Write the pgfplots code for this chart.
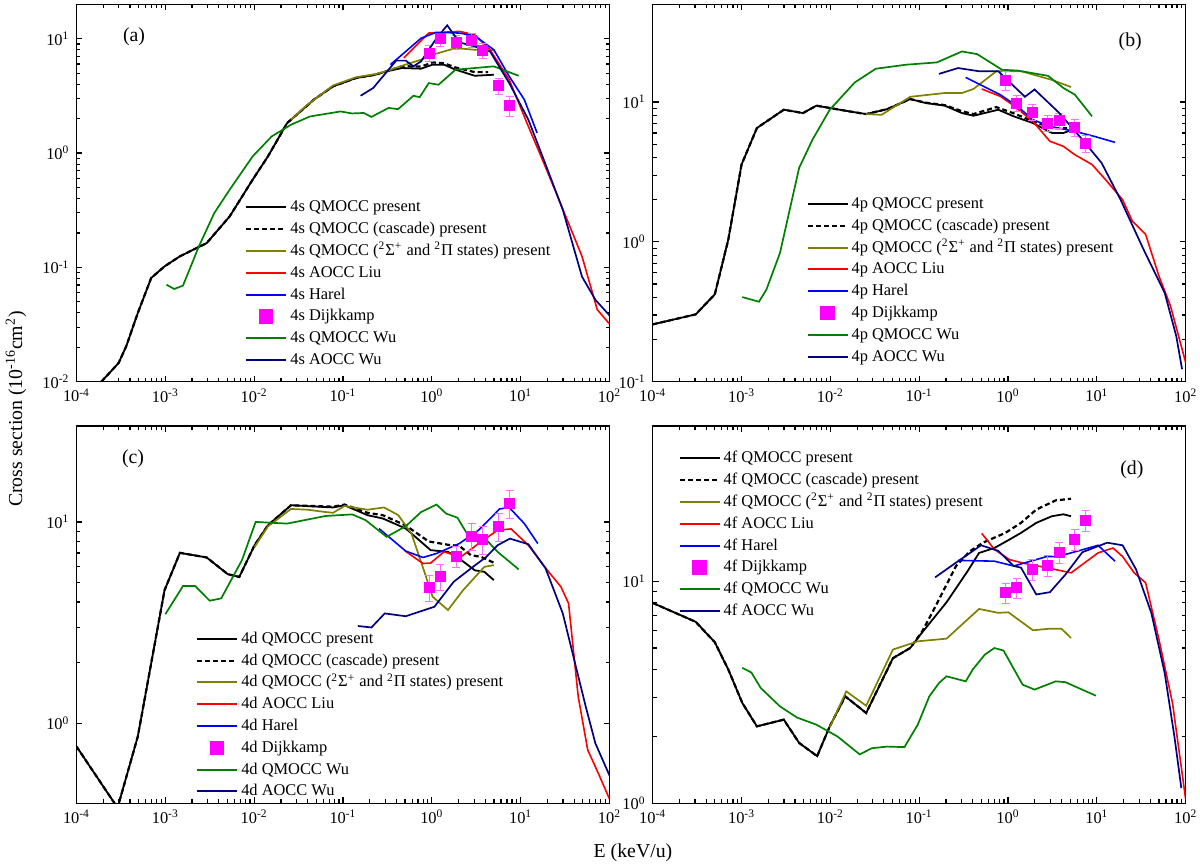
\documentclass[border=0pt]{standalone}
\usepackage{fontspec}
\setmainfont{Liberation Serif}
\usepackage{pgfplots}
\pgfplotsset{compat=1.18}
\definecolor{olivec}{RGB}{128,128,0}
\definecolor{greenc}{RGB}{0,128,0}
\definecolor{navyc}{RGB}{0,0,128}
\definecolor{redc}{RGB}{255,0,0}
\definecolor{bluec}{RGB}{0,0,255}
\definecolor{magc}{RGB}{255,0,255}
\definecolor{pinkc}{RGB}{255,110,255}
\newcommand{\fs}{\fontsize{8.2}{10}\selectfont}
\newcommand{\fl}{\fontsize{9.9}{12}\selectfont}
\tikzset{
  qm/.style={draw=black, line width=0.9pt},
  qmc/.style={draw=black, line width=1.1pt, dash pattern=on 2.5pt off 1.5pt},
  qms/.style={draw=olivec, line width=0.85pt},
  liu/.style={draw=redc, line width=0.8pt},
  harel/.style={draw=bluec, line width=0.8pt},
  wuq/.style={draw=greenc, line width=0.85pt},
  wua/.style={draw=navyc, line width=0.85pt},
}
\begin{document}
\begin{tikzpicture}
\useasboundingbox (0,0) rectangle (600pt,432.5pt);
% ---------------- (a)
\begin{loglogaxis}[at={(38.25pt,241.65pt)}, anchor=south west,
  scale only axis, width=266.5pt, height=188.7pt,
  xmin=1e-4, xmax=1e2, ymin=0.01, ymax=20,
  axis line style={line width=0.75pt},
  tick style={black, line width=0.6pt},
  major tick length=3pt, minor tick length=2pt,
  tick label style={font=\fs},
  xtick={1e-4,1e-3,1e-2,1e-1,1,10,100},
  xticklabels={10\textsuperscript{-4},10\textsuperscript{-3},10\textsuperscript{-2},10\textsuperscript{-1},10\textsuperscript{0},10\textsuperscript{1},10\textsuperscript{2}},
  ytick={0.01,0.1,1,10},
  yticklabels={10\textsuperscript{-2},10\textsuperscript{-1},10\textsuperscript{0},10\textsuperscript{1}},
  legend image code/.code={\draw[#1, line width=1pt] (0pt,0pt) -- (20pt,0pt);},
  legend cell align=left,
  legend style={draw=none, fill=none, font=\fs, inner sep=0pt, column sep=0pt,
     nodes={inner xsep=1.5pt, inner ysep=1.2pt, text height=6.5pt, text depth=2pt},
     at={(0.316,0.492)}, anchor=north west}]
\addplot[qm] coordinates {(1.9e-4,0.0100)(2.44e-4,0.0123)(2.98e-4,0.0146)(3.63e-4,0.0204)(4.9e-4,0.0399)(6.93e-4,0.0807)(9.8e-4,0.102)(1.46e-3,0.125)(2.92e-3,0.163)(5.3e-3,0.279)(9.62e-3,0.585)(0.0143,0.935)(0.0235,1.83)(0.0386,2.56)(0.047,2.93)(0.0773,3.83)(0.14,4.53)(0.23,4.84)(0.31,5.18)(0.461,5.54)(0.757,5.47)(1.02,5.93)(1.37,5.93)(1.85,5.36)(3.04,4.74)(4.99,4.84)};
\addlegendentry{4s QMOCC present}
\addplot[qmc] coordinates {(1.9e-4,0.0100)(2.44e-4,0.0123)(2.98e-4,0.0146)(3.63e-4,0.0204)(4.9e-4,0.0399)(6.93e-4,0.0807)(9.8e-4,0.102)(1.46e-3,0.125)(2.92e-3,0.163)(5.3e-3,0.279)(9.62e-3,0.585)(0.0143,0.935)(0.0235,1.83)(0.0386,2.56)(0.047,2.93)(0.0773,3.83)(0.14,4.53)(0.23,4.84)(0.31,5.2)(0.461,5.75)(0.757,5.7)(1.02,6.2)(1.37,6.1)(1.85,5.6)(3.04,5.1)(4.3,5.1)};
\addlegendentry{4s QMOCC (cascade) present}
\addplot[qms] coordinates {(0.026,1.96)(0.0386,2.6)(0.0773,3.9)(0.14,4.6)(0.23,4.9)(0.31,5.2)(0.461,5.8)(0.757,6.55)(1.02,7.24)(1.85,8.28)(3.04,8.0)(4.99,7.9)};
\addlegendentry{4s QMOCC (\textsuperscript{2}Σ\textsuperscript{+} and \textsuperscript{2}Π states) present}
\addplot[liu] coordinates {(0.484,6.8)(0.924,11.2)(2.04,11.6)(3.04,10.8)(4.52,8.0)(7.43,4.38)(12.2,1.71)(18.2,0.82)(27,0.39)(49,0.125)(72.8,0.0427)(100,0.032)};
\addlegendentry{4s AOCC Liu}
\addplot[harel] coordinates {(0.342,5.93)(0.509,7.74)(0.757,10.1)(1.13,11.4)(2.04,11.2)(3.04,10.6)(4.99,8.0)(7.43,4.69)(11.0,2.93)(15.3,1.50)};
\addlegendentry{4s Harel}
\addplot[only marks, mark=square*, mark size=2.5pt, color=magc,
     legend image code/.code={\fill[magc] (6.6pt,-3.3pt) rectangle (13.2pt,3.3pt);},
     error bars/y dir=both, error bars/y explicit,
     error bars/error bar style={pinkc, line width=0.5pt},
     error bars/error mark options={pinkc, rotate=90, mark size=2pt, line width=0.5pt}]
  table[x index=0, y index=1, y error index=2, row sep=\\] {
0.94 7.5 1.2\\ 1.25 10.0 1.5\\ 1.88 9.35 1.3\\ 2.81 9.7 1.4\\ 3.75 7.9 1.2\\ 5.63 3.88 0.6\\ 7.5 2.6 0.5\\};
\addlegendentry{4s Dijkkamp}
\addplot[wuq] coordinates {(1.03e-3,0.0705)(1.26e-3,0.0647)(1.58e-3,0.0692)(2.39e-3,0.153)(3.56e-3,0.299)(5.3e-3,0.478)(9.62e-3,0.935)(0.0158,1.40)(0.026,1.77)(0.0426,2.09)(0.094,2.31)(0.126,2.22)(0.171,2.24)(0.209,2.07)(0.326,2.48)(0.417,2.42)(0.621,3.17)(0.73,3.08)(0.924,4.09)(1.19,3.96)(1.85,5.36)(3.04,5.54)(4.99,5.73)(9.5,4.74)};
\addlegendentry{4s QMOCC Wu}
\addplot[wua] coordinates {(0.158,3.17)(0.219,3.71)(0.397,6.43)(0.509,6.43)(0.621,5.73)(0.757,6.34)(0.924,8.0)(1.13,10.1)(1.49,13.1)(2.04,9.29)(3.04,8.57)(4.52,7.74)(7.43,4.09)(12.2,1.96)(18.2,0.875)(29.8,0.319)(49,0.083)(69.4,0.052)(100,0.038)};
\addlegendentry{4s AOCC Wu}
\node[font=\fl] at (rel axis cs:0.108,0.913) {(a)};
\end{loglogaxis}
% ---------------- (b)
\begin{loglogaxis}[at={(326.35pt,241.65pt)}, anchor=south west,
  scale only axis, width=266.5pt, height=188.7pt,
  xmin=1e-4, xmax=1e2, ymin=0.1, ymax=50,
  axis line style={line width=0.75pt},
  tick style={black, line width=0.6pt},
  major tick length=3pt, minor tick length=2pt,
  tick label style={font=\fs},
  xtick={1e-4,1e-3,1e-2,1e-1,1,10,100},
  xticklabels={10\textsuperscript{-4},10\textsuperscript{-3},10\textsuperscript{-2},10\textsuperscript{-1},10\textsuperscript{0},10\textsuperscript{1},10\textsuperscript{2}},
  ytick={0.1,1,10},
  yticklabels={10\textsuperscript{-1},10\textsuperscript{0},10\textsuperscript{1}},
  legend image code/.code={\draw[#1, line width=1pt] (0pt,0pt) -- (20pt,0pt);},
  legend cell align=left,
  legend style={draw=none, fill=none, font=\fs, inner sep=0pt, column sep=0pt,
     nodes={inner xsep=1.5pt, inner ysep=1.2pt, text height=6.5pt, text depth=2pt},
     at={(0.288,0.501)}, anchor=north west}]
\addplot[qm] coordinates {(1e-4,0.257)(3.05e-4,0.303)(5.0e-4,0.421)(7.1e-4,1.04)(1.0e-3,3.57)(1.49e-3,6.52)(2.99e-3,8.81)(4.92e-3,8.34)(6.97e-3,9.42)(0.0162,8.58)(0.0253,8.2)(0.0437,8.9)(0.0792,10.5)(0.118,9.84)(0.194,9.42)(0.303,8.34)(0.408,7.98)(0.776,8.81)(1.16,7.9)(1.90,7.08)(3.12,6.01)(4.2,6.01)(5.12,6.28)};
\addlegendentry{4p QMOCC present}
\addplot[qmc] coordinates {(1e-4,0.257)(3.05e-4,0.303)(5.0e-4,0.421)(7.1e-4,1.04)(1.0e-3,3.57)(1.49e-3,6.52)(2.99e-3,8.81)(4.92e-3,8.34)(6.97e-3,9.42)(0.0162,8.58)(0.0253,8.2)(0.0437,8.9)(0.0792,10.5)(0.118,9.9)(0.194,9.5)(0.303,8.6)(0.408,8.2)(0.738,9.2)(1.16,8.3)(1.90,7.3)(3.12,6.5)(4.63,6.5)};
\addlegendentry{4p QMOCC (cascade) present}
\addplot[qms] coordinates {(0.0253,8.2)(0.0377,8.1)(0.0792,10.9)(0.194,11.6)(0.303,11.6)(0.408,12.4)(0.738,16.6)(1.41,16.6)(3.12,14.4)(5.12,12.8)};
\addlegendentry{4p QMOCC (\textsuperscript{2}Σ\textsuperscript{+} and \textsuperscript{2}Π states) present}
\addplot[liu] coordinates {(0.506,12.4)(0.814,11.0)(1.16,9.42)(1.90,7.28)(2.96,5.24)(4.2,4.82)(5.65,4.2)(8.83,3.57)(12.5,2.79)(19.5,2.0)(25,1.41)(35.4,1.13)(50,0.569)(67.5,0.347)(100,0.137)};
\addlegendentry{4p AOCC Liu}
\addplot[harel] coordinates {(0.333,15.0)(0.814,11.3)(1.28,9.3)(1.90,7.48)(2.96,6.7)(5.65,6.17)(9.27,5.69)(16.0,5.15)};
\addlegendentry{4p Harel}
\addplot[only marks, mark=square*, mark size=2.5pt, color=magc,
     legend image code/.code={\fill[magc] (6.6pt,-3.3pt) rectangle (13.2pt,3.3pt);},
     error bars/y dir=both, error bars/y explicit,
     error bars/error bar style={pinkc, line width=0.5pt},
     error bars/error mark options={pinkc, rotate=90, mark size=2pt, line width=0.5pt}]
  table[x index=0, y index=1, y error index=2, row sep=\\] {
0.94 14.3 2.2\\ 1.25 9.84 1.3\\ 1.88 8.44 1.1\\ 2.81 7.08 0.9\\ 3.75 7.4 0.9\\ 5.63 6.59 0.9\\ 7.5 5.04 0.7\\};
\addlegendentry{4p Dijkkamp}
\addplot[wuq] coordinates {(1.02e-3,0.403)(1.57e-3,0.373)(1.91e-3,0.457)(2.71e-3,0.834)(4.45e-3,3.38)(6.29e-3,5.38)(9.84e-3,8.81)(0.0188,13.8)(0.0324,17.3)(0.0716,18.5)(0.158,19.2)(0.303,23.0)(0.45,22.0)(0.857,17.0)(1.28,16.8)(2.82,15.4)(4.2,12.6)(5.65,11.3)(8.83,7.9)};
\addlegendentry{4p QMOCC Wu}
\addplot[wua] coordinates {(0.167,15.9)(0.274,17.5)(0.473,16.6)(0.776,16.6)(1.55,10.9)(1.99,12.3)(3.78,8.34)(6.87,5.38)(11.3,3.67)(18.5,2.0)(33.6,0.88)(58,0.432)(78.3,0.212)(91,0.123)};
\addlegendentry{4p AOCC Wu}
\node[font=\fl] at (rel axis cs:0.896,0.90) {(b)};
\end{loglogaxis}
% ---------------- (c)
\begin{loglogaxis}[at={(38.25pt,30.85pt)}, anchor=south west,
  scale only axis, width=266.5pt, height=188.7pt,
  xmin=1e-4, xmax=1e2, ymin=0.4, ymax=30,
  axis line style={line width=0.75pt},
  tick style={black, line width=0.6pt},
  major tick length=3pt, minor tick length=2pt,
  tick label style={font=\fs},
  xtick={1e-4,1e-3,1e-2,1e-1,1,10,100},
  xticklabels={10\textsuperscript{-4},10\textsuperscript{-3},10\textsuperscript{-2},10\textsuperscript{-1},10\textsuperscript{0},10\textsuperscript{1},10\textsuperscript{2}},
  ytick={1,10},
  yticklabels={10\textsuperscript{0},10\textsuperscript{1}},
  legend image code/.code={\draw[#1, line width=1pt] (0pt,0pt) -- (20pt,0pt);},
  legend cell align=left,
  legend style={draw=none, fill=none, font=\fs, inner sep=0pt, column sep=0pt,
     nodes={inner xsep=1.5pt, inner ysep=1.2pt, text height=6.5pt, text depth=2pt},
     at={(0.224,0.466)}, anchor=north west}]
\addplot[qm] coordinates {(1e-4,0.766)(2.9e-4,0.38)(4.9e-4,0.859)(9.8e-4,4.58)(1.46e-3,7.02)(2.92e-3,6.66)(5.05e-3,5.5)(6.8e-3,5.33)(0.0101,7.66)(0.0143,9.62)(0.026,12.1)(0.0773,11.8)(0.104,12.1)(0.189,10.8)(0.281,10.4)(0.509,9.27)(0.97,7.24)(1.52,7.1)(2.04,6.58)(3.04,5.75)(3.9,5.65)(4.99,5.14)};
\addlegendentry{4d QMOCC present}
\addplot[qmc] coordinates {(1e-4,0.766)(2.9e-4,0.38)(4.9e-4,0.859)(9.8e-4,4.58)(1.46e-3,7.02)(2.92e-3,6.66)(5.05e-3,5.5)(6.8e-3,5.33)(0.0101,7.66)(0.0143,9.62)(0.026,12.1)(0.0773,11.9)(0.104,12.2)(0.189,11.1)(0.281,10.8)(0.509,9.6)(0.92,8.0)(1.52,7.7)(2.04,7.6)(2.75,6.84)(3.6,6.7)(4.99,6.27)};
\addlegendentry{4d QMOCC (cascade) present}
\addplot[qms] coordinates {(0.0101,7.5)(0.0143,9.5)(0.026,11.6)(0.04,11.5)(0.0634,11.2)(0.0773,11.1)(0.104,12.0)(0.189,11.5)(0.29,11.8)(0.42,10.8)(0.59,8.75)(0.836,5.55)(1.02,4.25)(1.52,3.65)(2.25,4.58)(3.9,5.98)(4.99,6.1)};
\addlegendentry{4d QMOCC (\textsuperscript{2}Σ\textsuperscript{+} and \textsuperscript{2}Π states) present}
\addplot[liu] coordinates {(0.499,7.18)(0.796,6.21)(0.97,6.25)(1.37,7.1)(2.12,6.7)(3.36,7.81)(5.5,9.1)(7.8,9.23)(12.2,7.66)(20,5.75)(28.4,4.76)(34.6,3.94)(44.4,1.36)(56.8,0.738)(76,0.555)(100,0.42)};
\addlegendentry{4d AOCC Liu}
\addplot[harel] coordinates {(0.254,9.27)(0.509,7.16)(0.796,6.66)(1.13,6.97)(2.04,7.81)(3.36,9.1)(5.8,11.6)(7.43,11.8)(11.0,9.81)(15.6,7.81)};
\addlegendentry{4d Harel}
\addplot[only marks, mark=square*, mark size=2.5pt, color=magc,
     legend image code/.code={\fill[magc] (6.6pt,-3.3pt) rectangle (13.2pt,3.3pt);},
     error bars/y dir=both, error bars/y explicit,
     error bars/error bar style={pinkc, line width=0.5pt},
     error bars/error mark options={pinkc, rotate=90, mark size=2pt, line width=0.5pt}]
  table[x index=0, y index=1, y error index=2, row sep=\\] {
0.94 4.71 0.7\\ 1.25 5.37 0.8\\ 1.88 6.76 0.8\\ 2.81 8.49 1.3\\ 3.75 8.17 1.3\\ 5.63 9.52 1.5\\ 7.5 12.4 2.0\\};
\addlegendentry{4d Dijkkamp}
\addplot[wuq] coordinates {(1e-3,3.48)(1.58e-3,4.8)(2.17e-3,4.8)(3.16e-3,4.06)(4.26e-3,4.17)(7.28e-3,6.45)(0.0104,10.0)(0.0235,9.81)(0.0634,10.7)(0.127,10.9)(0.18,10.2)(0.31,8.43)(0.509,9.52)(0.757,11.2)(1.13,12.2)(1.45,11.0)(1.94,10.5)(2.49,8.75)(3.9,8.36)(5.5,7.1)(9.5,5.81)};
\addlegendentry{4d QMOCC Wu}
\addplot[wua] coordinates {(0.147,3.04)(0.209,2.99)(0.295,3.51)(0.509,3.4)(1.07,3.79)(1.76,5.04)(2.75,5.87)(4.09,6.7)(5.5,7.66)(7.57,8.26)(12.2,7.75)(19.1,5.87)(29.8,3.51)(54,1.21)(69.4,0.794)(100,0.55)};
\addlegendentry{4d AOCC Wu}
\node[font=\fl] at (rel axis cs:0.106,0.913) {(c)};
\end{loglogaxis}
% ---------------- (d)
\begin{loglogaxis}[at={(326.35pt,30.85pt)}, anchor=south west,
  scale only axis, width=266.5pt, height=188.7pt,
  xmin=1e-4, xmax=1e2, ymin=1, ymax=50,
  axis line style={line width=0.75pt},
  tick style={black, line width=0.6pt},
  major tick length=3pt, minor tick length=2pt,
  tick label style={font=\fs},
  xtick={1e-4,1e-3,1e-2,1e-1,1,10,100},
  xticklabels={10\textsuperscript{-4},10\textsuperscript{-3},10\textsuperscript{-2},10\textsuperscript{-1},10\textsuperscript{0},10\textsuperscript{1},10\textsuperscript{2}},
  ytick={1,10},
  yticklabels={10\textsuperscript{0},10\textsuperscript{1}},
  legend image code/.code={\draw[#1, line width=1pt] (0pt,0pt) -- (20pt,0pt);},
  legend cell align=left,
  legend style={draw=none, fill=none, font=\fs, inner sep=0pt, column sep=0pt,
     nodes={inner xsep=1.5pt, inner ysep=1.2pt, text height=6.5pt, text depth=2pt},
     at={(0.048,0.944)}, anchor=north west}]
\addplot[qm] coordinates {(1e-4,7.98)(3.05e-4,6.56)(5.0e-4,5.31)(7.1e-4,4.0)(1.02e-3,2.83)(1.49e-3,2.22)(2.99e-3,2.38)(4.45e-3,1.87)(7.1e-3,1.63)(9.84e-3,2.22)(0.0147,3.03)(0.0253,2.55)(0.0506,4.5)(0.0792,5.0)(0.107,5.85)(0.203,8.03)(0.351,11.1)(0.472,13.4)(0.702,14.1)(1.04,15.4)(1.40,16.5)(2.08,18.3)(3.11,19.6)(4.2,20.0)(5.12,19.6)};
\addlegendentry{4f QMOCC present}
\addplot[qmc] coordinates {(1e-4,7.98)(3.05e-4,6.56)(5.0e-4,5.31)(7.1e-4,4.0)(1.02e-3,2.83)(1.49e-3,2.22)(2.99e-3,2.38)(4.45e-3,1.87)(7.1e-3,1.63)(9.84e-3,2.22)(0.0147,3.03)(0.0253,2.55)(0.0506,4.5)(0.0792,5.0)(0.107,5.9)(0.143,7.33)(0.26,11.7)(0.369,13.6)(0.521,14.9)(0.935,16.5)(1.40,18.3)(2.08,21.0)(3.44,23.1)(5.12,23.5)};
\addlegendentry{4f QMOCC (cascade) present}
\addplot[qms] coordinates {(9.84e-3,2.2)(0.0151,3.19)(0.0253,2.75)(0.0506,4.92)(0.0964,5.36)(0.203,5.51)(0.472,7.5)(0.775,7.2)(1.01,7.24)(1.91,6.01)(2.82,6.1)(4.0,6.1)(5.12,5.55)};
\addlegendentry{4f QMOCC (\textsuperscript{2}Σ\textsuperscript{+} and \textsuperscript{2}Π states) present}
\addplot[liu] coordinates {(0.506,16.4)(0.702,13.9)(1.04,12.5)(1.55,12.0)(2.72,11.5)(5.12,10.9)(10.3,13.4)(15.2,14.1)(19.5,12.9)(26.3,10.9)(35.4,9.83)(50,5.46)(71,2.83)(100,1.04)};
\addlegendentry{4f AOCC Liu}
\addplot[harel] coordinates {(0.274,12.4)(0.702,12.3)(1.16,11.7)(2.72,12.9)(3.61,12.9)(6.24,13.7)(10.3,14.5)(16.0,12.3)};
\addlegendentry{4f Harel}
\addplot[only marks, mark=square*, mark size=2.5pt, color=magc,
     legend image code/.code={\fill[magc] (6.6pt,-3.3pt) rectangle (13.2pt,3.3pt);},
     error bars/y dir=both, error bars/y explicit,
     error bars/error bar style={pinkc, line width=0.5pt},
     error bars/error mark options={pinkc, rotate=90, mark size=2pt, line width=0.5pt}]
  table[x index=0, y index=1, y error index=2, row sep=\\] {
0.94 8.86 0.9\\ 1.25 9.33 1.0\\ 1.88 11.3 1.2\\ 2.81 11.8 1.3\\ 3.75 13.5 1.5\\ 5.63 15.4 1.7\\ 7.5 18.7 2.0\\};
\addlegendentry{4f Dijkkamp}
\addplot[wuq] coordinates {(1.02e-3,4.07)(1.29e-3,3.88)(1.65e-3,3.30)(2.71e-3,2.73)(4.23e-3,2.43)(6.95e-3,2.26)(0.012,2.0)(0.0214,1.66)(0.0293,1.77)(0.0437,1.80)(0.0682,1.79)(0.0964,2.26)(0.13,3.03)(0.167,3.48)(0.203,3.73)(0.334,3.54)(0.4,4.0)(0.548,4.67)(0.702,5.0)(0.89,4.87)(1.46,3.42)(1.99,3.25)(3.44,3.54)(4.42,3.51)(9.75,3.05)};
\addlegendentry{4f QMOCC Wu}
\addplot[wua] coordinates {(0.151,10.4)(0.274,12.3)(0.497,14.5)(0.775,13.7)(1.16,11.7)(1.40,11.5)(2.08,8.71)(2.96,8.92)(4.42,10.7)(6.87,13.5)(13.1,14.9)(19.5,14.5)(27.6,11.3)(41,7.2)(58,3.86)(74.6,2.0)(89.3,1.17)};
\addlegendentry{4f AOCC Wu}
\node[font=\fl] at (rel axis cs:0.899,0.883) {(d)};
\end{loglogaxis}
\node[font=\fl, rotate=90] at (8pt,228pt) {Cross section (10\textsuperscript{-16}cm\textsuperscript{2})};
\node[font=\fl] at (316.5pt,6pt) {E (keV/u)};
\end{tikzpicture}
\end{document}
